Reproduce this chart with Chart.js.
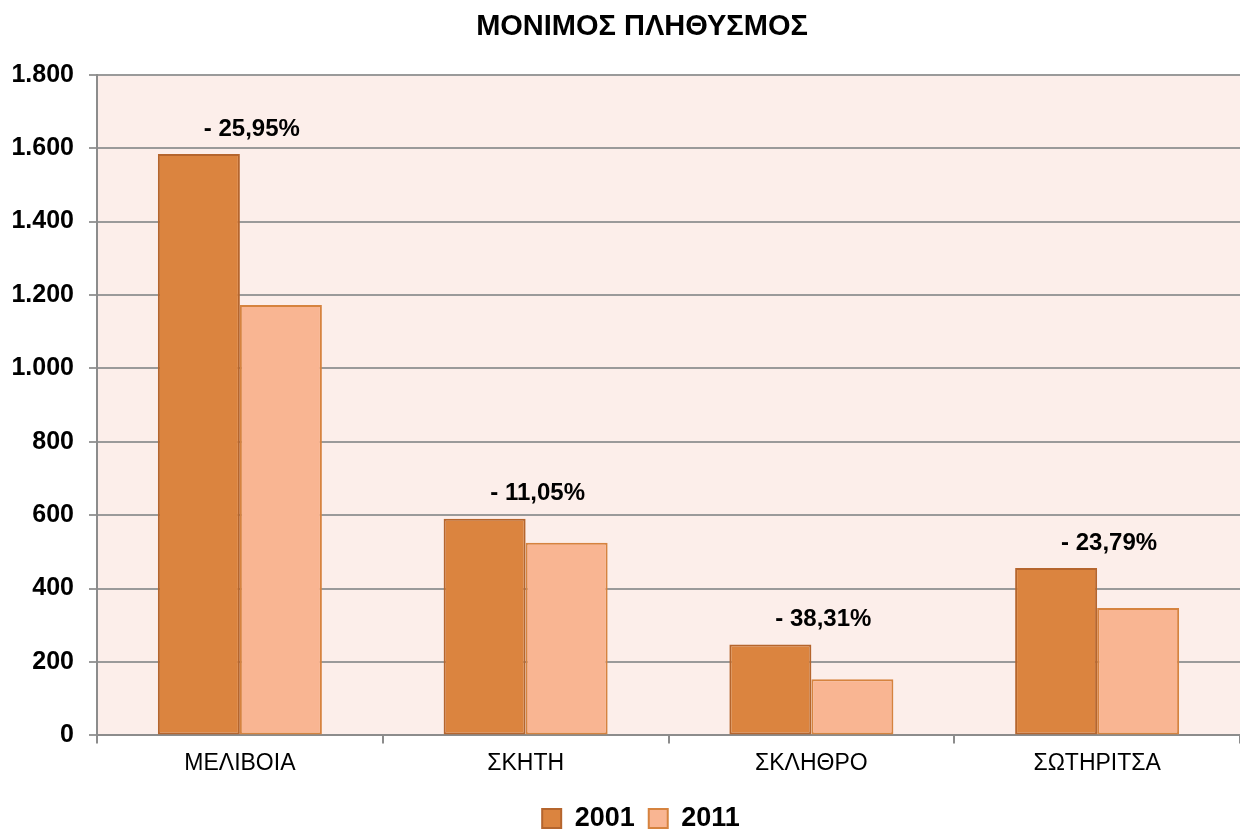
<!DOCTYPE html>
<html>
<head>
<meta charset="utf-8">
<title>ΜΟΝΙΜΟΣ ΠΛΗΘΥΣΜΟΣ</title>
<script src="https://cdn.jsdelivr.net/npm/chart.js@4"></script>
<style>
  html, body { margin: 0; padding: 0; background: #fff; }
  #wrap { width: 1240px; height: 830px; }
</style>
</head>
<body>
<div id="wrap"><canvas id="grafico" width="1240" height="830"></canvas></div>
<script>
const oikismoi = ['ΜΕΛΙΒΟΙΑ', 'ΣΚΗΤΗ', 'ΣΚΛΗΘΡΟ', 'ΣΩΤΗΡΙΤΣΑ'];
const plithysmos2001 = [1584, 590, 248, 456];
const plithysmos2011 = [1173, 525, 153, 347];
const metavoli = ['- 25,95%', '- 11,05%', '- 38,31%', '- 23,79%'];
const etiketesY = [0, 200, 400, 600, 800, 1000, 1200, 1400, 1600, 1800];

const fontFamily = '"Liberation Sans", Arial, sans-serif';

function mePontous(v) {
    return String(v).replace(/\B(?=(\d{3})+(?!\d))/g, '.');
}

// ροζ φόντο στην περιοχή του γραφήματος
const fondo = {
    id: 'fondo',
    beforeDraw(chart) {
        const { ctx, chartArea: a } = chart;
        ctx.save();
        ctx.fillStyle = '#FCEEEA';
        ctx.fillRect(a.left, a.top, a.right - a.left, a.bottom - a.top);
        ctx.restore();
    }
};

// τίτλος και υπόμνημα λίγο δεξιότερα, όπως στο Excel
const metatopisi = {
    id: 'metatopisi',
    afterLayout(chart) {
        if (chart.titleBlock) chart.titleBlock.left += 44;
        if (chart.legend) chart.legend.left += 42;
    }
};

// ποσοστά μεταβολής πάνω από κάθε ζεύγος
const pososta = {
    id: 'pososta',
    afterDatasetsDraw(chart) {
        const { ctx } = chart;
        const m0 = chart.getDatasetMeta(0).data;
        const m1 = chart.getDatasetMeta(1).data;
        ctx.save();
        ctx.font = 'bold 24px ' + fontFamily;
        ctx.fillStyle = '#000';
        ctx.textAlign = 'center';
        ctx.textBaseline = 'middle';
        metavoli.forEach((txt, i) => {
            const x = (m0[i].x + m1[i].x) / 2 + 12;
            const y = Math.min(m0[i].y, m1[i].y) - 25;
            ctx.fillText(txt, x, y);
        });
        ctx.restore();
    }
};

new Chart(document.getElementById('grafico'), {
    type: 'bar',
    data: {
        labels: oikismoi,
        datasets: [{
            label: '2001',
            data: plithysmos2001,
            backgroundColor: '#DB843F',
            borderColor: '#B5652D',
            borderWidth: 2,
            borderSkipped: false
        }, {
            label: '2011',
            data: plithysmos2011,
            backgroundColor: '#F9B592',
            borderColor: '#D6833F',
            borderWidth: 2,
            borderSkipped: false
        }]
    },
    options: {
        responsive: false,
        animation: false,
        devicePixelRatio: 1,
        layout: { padding: { left: 0, right: 0, top: 0, bottom: -12 } },
        datasets: { bar: { categoryPercentage: 0.574, barPercentage: 1 } },
        plugins: {
            title: {
                display: true,
                text: 'ΜΟΝΙΜΟΣ ΠΛΗΘΥΣΜΟΣ',
                color: '#000',
                font: { family: fontFamily, size: 29, weight: 'bold', lineHeight: 1.2 },
                padding: { top: 10, bottom: 30 }
            },
            legend: {
                position: 'bottom',
                labels: {
                    color: '#000',
                    font: { family: fontFamily, size: 27, weight: 'bold' },
                    boxWidth: 19,
                    boxHeight: 19,
                    padding: 14
                }
            },
            tooltip: { enabled: false }
        },
        scales: {
            x: {
                afterFit(scale) {
                    scale.height += 8;
                },
                grid: {
                    offset: true,
                    drawOnChartArea: false,
                    drawTicks: true,
                    tickLength: 8,
                    color: '#8C8C8C',
                    lineWidth: 2
                },
                border: { color: '#8C8C8C', width: 2 },
                ticks: {
                    color: '#000',
                    font: { family: fontFamily, size: 23 },
                    padding: 6
                }
            },
            y: {
                min: 0,
                max: 1800,
                afterBuildTicks(scale) {
                    scale.ticks = etiketesY.map(v => ({ value: v }));
                },
                afterFit(scale) {
                    scale.width = 97;
                },
                grid: {
                    color: '#9A9A9A',
                    lineWidth: 2,
                    tickLength: 8
                },
                border: { color: '#8C8C8C', width: 2 },
                ticks: {
                    color: '#000',
                    font: { family: fontFamily, size: 25, weight: 'bold' },
                    padding: 15,
                    callback: v => mePontous(v)
                }
            }
        }
    },
    plugins: [fondo, metatopisi, pososta]
});
</script>
</body>
</html>
